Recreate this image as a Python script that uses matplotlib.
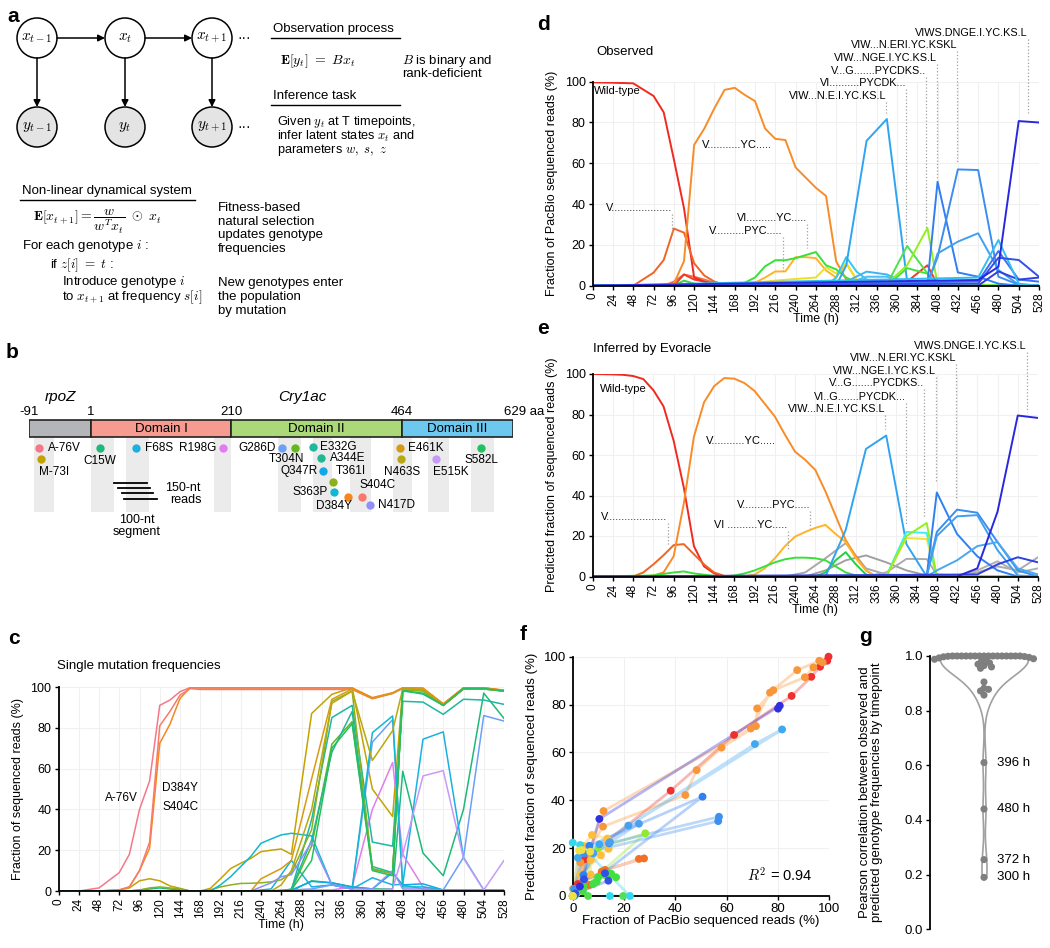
import numpy as np
import matplotlib
matplotlib.use("Agg")
import matplotlib.pyplot as plt
from matplotlib.patches import Circle, Rectangle

plt.rcParams["font.family"] = ["Liberation Sans", "DejaVu Sans"]
plt.rcParams["mathtext.fontset"] = "cm"

# ---------------- panel b: protein map ----------------
DOMAIN_BOUNDS = [-91, 1, 210, 464, 629]
DOMAIN_NAMES = ["", "Domain I", "Domain II", "Domain III"]
SEGMENTS = [(-84, -54), (1, 35), (54, 87), (184, 210), (280, 313), (331, 359),
            (386, 418), (451, 479), (503, 534), (567, 601)]
MUT_NAMES = ["A-76V", "M-73I", "C15W", "F68S", "R198G", "G286D", "T304N", "E332G",
             "A344E", "Q347R", "T361I", "S363P", "D384Y", "S404C", "N417D",
             "E461K", "N463S", "E515K", "S582L"]
MUT_POS = [-76, -73, 15, 68, 198, 286, 304, 332, 344, 347, 361, 363, 384, 404, 417,
           461, 463, 515, 582]

# ---------------- panel c: single mutation frequencies ----------------
TC = [0, 24, 48, 72, 84, 96, 108, 120, 132, 144, 156, 168, 180, 192, 204, 216, 228,
      240, 252, 264, 276, 300, 324, 348, 372, 396, 408, 432, 456, 480, 504, 528]
C_VALUES = {
    "A-76V": [0, 0, 1.5, 9, 18, 40, 54, 91, 93.6, 97.7, 99.7, 99.5, 99.5, 99.5, 99.5, 99.5, 99.5,
              99.5, 99.5, 99.5, 99.5, 99.5, 99.5, 99.5, 94.5, 97, 99.5, 99.3, 91.5, 99.5, 99.5, 98.3],
    "M-73I": [0, 0, 0, 0.5, 1.5, 5, 6, 5, 2.5, 1.3, 0, 0, 1.3, 6, 11, 13.6, 16,
              19.3, 20, 20.6, 18, 87, 96.4, 99.7, 50, 36.5, 99.5, 99.3, 91.5, 99.5, 99.5, 98.3],
    "C15W": [0, 0, 0, 0, 0, 0.5, 1, 1.5, 1, 0.5, 0, 0, 0, 0, 0, 0, 0,
             0, 0, 0, 0, 5, 4, 2, 1, 1, 58.7, 18.6, 7.5, 40, 97, 84.6],
    "F68S": [0, 0, 0, 0, 0, 0, 0, 0, 0, 0, 0, 0, 0, 0, 0, 0, 0,
             0.5, 1, 8, 15, 2, 3, 1, 6.5, 3, 3.3, 74.4, 78, 16.5, 0.5, 0.5],
    "R198G": [0, 0, 0, 0, 0, 0, 0, 0, 0, 0, 0, 0, 0, 0, 0, 0, 0,
              0, 0, 0, 0, 0.5, 0.5, 2, 40, 63, 18, 2, 0.5, 0.5, 0.5, 0.5],
    "G286D": [0, 0, 0, 0, 0, 0, 0, 0, 0, 0, 0, 0, 0, 0, 0, 0, 0,
              0, 0, 0.5, 0.5, 1, 3, 1, 73, 84, 3, 1, 0.5, 16.5, 86, 83.3],
    "T304N": [0, 0, 0, 0, 0, 0, 0, 0, 0, 0, 0, 0, 0, 0, 0, 0, 0,
              0, 0, 0, 0.5, 22, 72, 83, 11, 8.5, 98.5, 98, 91, 99, 99, 98],
    "E332G": [0, 0, 0, 0, 0, 0, 0, 0, 0, 0, 0, 0, 0, 0, 0, 0, 0,
              0, 0, 0, 0.5, 35, 85, 91, 24, 22, 93, 92.6, 86.6, 94, 93.6, 91.5],
    "A344E": [0, 0, 0, 0, 0, 0, 0, 0, 0, 0, 0, 0, 0, 0, 0, 0, 0,
              0, 0, 0, 1, 25, 68, 88, 12, 9, 98.3, 96.5, 91, 99, 99, 98],
    "Q347R": [0, 0, 0, 0, 0, 0, 0, 0, 0, 0, 0, 0, 0, 0, 0, 0, 0,
              0, 0, 0, 0.5, 4.7, 4, 2, 1, 9, 3, 3.5, 0.5, 0.5, 0.5, 0.5],
    "T361I": [0, 0, 0, 0, 0, 0.5, 1.5, 2, 1.5, 1, 0, 0, 0.5, 2, 3, 3.7, 3.8,
              4, 4.5, 5.5, 9, 30, 93, 98, 10.5, 8.5, 99, 98.5, 91, 99.3, 99.3, 98],
    "S363P": [0, 0, 0, 0, 0, 0, 0, 0, 0, 0, 0, 0, 0, 3, 7, 12, 17,
              23.4, 25.5, 27.5, 28.3, 27, 3, 1, 77.6, 85.8, 2, 2, 0.5, 0.5, 0.5, 0.5],
    "D384Y": [0, 0, 0, 0.5, 2, 10, 21, 72.4, 81.7, 94.4, 99.7, 99.6, 99.6, 99.6, 99.6, 99.6, 99.6,
              99.6, 99.6, 99.6, 99.6, 99.6, 99.6, 99.6, 94.8, 97.2, 99.6, 99.4, 91.8, 99.6, 99.6, 98.5],
    "S404C": [0, 0, 0, 0.5, 2, 10, 24, 81, 88, 96, 99.2, 98.8, 98.8, 98.8, 98.8, 98.8, 98.8,
              98.8, 98.8, 98.8, 98.8, 98.8, 98.8, 98.8, 94.2, 96.8, 99.3, 99.1, 91.2, 99.3, 99.3, 98],
    "N417D": [0, 0, 0, 0, 0, 0, 0, 0, 0, 0, 0, 0, 0, 0, 0, 0, 0,
              2, 4, 7, 8, 24, 3, 1, 1, 10, 1, 1, 0.5, 0.5, 0.5, 0.5],
    "E461K": [0, 0, 0, 0, 0, 0, 0, 0, 0, 0, 0, 0, 0, 0, 0, 0, 0,
              6, 8.5, 11, 15, 55, 94, 99, 94.5, 97, 99.5, 99.3, 91.5, 99.5, 99.5, 98.3],
    "N463S": [0, 0, 0, 0, 0, 0, 0, 0, 0, 0, 0, 0, 0, 0, 0, 0, 0,
              0, 0, 3, 10, 40, 92, 98, 64, 78.6, 99, 98.5, 91, 99.3, 99.3, 98],
    "E515K": [0, 0, 0, 0, 0, 0, 0, 0, 0, 0, 0, 0, 0, 0, 0, 0, 0,
              0, 0, 0, 0, 0, 0, 0, 0.5, 1, 18, 56.4, 59, 16, 0.5, 15],
    "S582L": [0, 0, 0, 0, 0, 0, 0, 0, 0, 0, 0, 0, 0, 0, 0, 0, 0,
              0, 0, 0, 0.5, 15, 70, 82, 10, 7.5, 98, 97, 91, 99.3, 99.3, 98],
}
C_NOTES = [("A-76V", 55, 45.5), ("D384Y", 123, 50.5), ("S404C", 123, 41.3)]

# ---------------- panel d: observed genotype frequencies ----------------
D_TIMES = [
    [0, 84, 96, 108, 120, 132, 144, 156, 528],
    [0, 96, 108, 120, 132, 144, 348, 372, 396, 408, 528],
    [0, 96, 108, 120, 132, 528],
    [0, 24, 48, 72, 84, 96, 108, 120, 132, 144, 156, 168, 180, 528],
    [0, 48, 72, 84, 96, 108, 120, 132, 144, 156, 528],
    [0, 84, 96, 108, 120, 132, 144, 156, 168, 180, 192, 204, 216, 228, 240, 252, 264, 276, 288, 300, 312, 528],
    [0, 168, 180, 192, 204, 216, 228, 240, 252, 264, 276, 288, 300, 312, 324, 528],
    [0, 168, 192, 216, 240, 264, 276, 288, 300, 312, 324, 528],
    [0, 168, 180, 192, 204, 216, 228, 240, 252, 264, 276, 288, 300, 312, 324, 528],
    [0, 276, 288, 300, 312, 324, 348, 372, 528],
    [0, 288, 300, 324, 348, 372, 528],
    [0, 288, 300, 324, 348, 372, 528],
    [0, 288, 300, 324, 348, 372, 396, 528],
    [0, 348, 372, 396, 408, 528],
    [0, 348, 372, 396, 408, 528],
    [0, 348, 372, 396, 408, 528],
    [0, 384, 396, 408, 432, 456, 480, 504, 528],
    [0, 384, 396, 408, 432, 456, 480, 504, 528],
    [0, 396, 408, 432, 456, 480, 504, 528],
    [0, 456, 480, 504, 528],
    [0, 456, 480, 504, 528],
    [0, 456, 480, 504, 528],
    [0, 456, 480, 504, 528],
    [0, 456, 480, 504, 528],
]
D_VALUES = [
    [0, 0, 2, 5.5, 4.4, 3, 1.5, 1, 0],
    [0, 0, 5.5, 3, 2, 0.5, 0, 2, 10, 0.5, 0],
    [0, 0, 2.5, 1, 0, 0],
    [99.7, 99.5, 99.2, 93, 85, 62, 38, 4, 2, 1, 0.5, 0.3, 0, 0],
    [0, 0, 6.4, 12.6, 28, 26, 11, 5, 2, 0.5, 0],
    [0, 0, 1, 12, 69, 77, 87, 96, 97, 93.5, 90.5, 77, 72, 71.4, 58, 53, 48, 44, 12, 3, 1, 0],
    [0, 0, 0.5, 1.5, 4, 7, 7, 14, 14, 13.5, 7.5, 4, 11, 3, 0, 0],
    [0, 0.5, 1.5, 2.5, 3.3, 4, 9, 6, 11, 3, 0, 0],
    [0, 0, 1.5, 4, 9.5, 12.5, 12.5, 13.5, 15, 16.5, 10, 8, 4, 1.5, 0, 0],
    [0, 0, 4, 14, 7, 3, 2, 0.5, 0],
    [0, 0, 2, 6.9, 5.5, 1, 0],
    [0, 0, 1, 4.4, 4.4, 1, 0],
    [0, 0, 10, 71, 81.7, 2, 0.5, 0],
    [0, 0, 8.6, 5.9, 0, 0],
    [0, 0.5, 19.5, 6, 0, 0],
    [0, 1, 10, 28.3, 0.5, 0],
    [0, 0, 1, 51, 6.5, 4.4, 1, 0, 0],
    [0, 0, 1, 14, 57, 56.7, 4.4, 0.5, 0],
    [0, 0, 15.8, 21.6, 25.7, 7.7, 0.5, 0],
    [0, 2, 17, 3, 2],
    [0, 0, 7, 3, 4],
    [0, 4, 22.4, 1, 0],
    [0, 1, 13.7, 12.6, 4.4],
    [0, 2.8, 9.3, 80.7, 80],
]
D_COLORS = ["#f07050", "#f03a20", "#40d040", "#f02a20", "#f06424", "#f88c28", "#ffb428",
            "#f0e020", "#38e038", "#30c8f0", "#40b4f0", "#50bcf0", "#30a4f0", "#40e040",
            "#50e050", "#90f020", "#3080f0", "#3b8ef0", "#40a0f0", "#4070f0", "#3040e0",
            "#30c0f0", "#3050e8", "#2828e0"]
D_LABELS = [("VIWS.DNGE.I.YC.KS.L", 515, 124, 84.5), ("VIW...N.ERI.YC.KSKL", 431, 118, 60),
            ("VIW...NGE.I.YC.KS.L", 407, 111.8, 51.8), ("V...G.......PYCDKS..", 394, 105.4, 28),
            ("VI..........PYCDK...", 371, 99.2, 21), ("VIW...N.E.I.YC.KS.L", 347, 93, 84.5),
            ("V....................", 94, 38, 25.6), ("VI..........YC.....", 254, 33, 18.3),
            ("V..........PYC.....", 225, 27, 7)]

# ---------------- panel e: inferred genotype frequencies ----------------
E_TIMES = [
    [0, 228, 252, 276, 300, 324, 348, 372, 396, 528],
    [0, 252, 276, 300, 324, 348, 372, 396, 408, 432, 528],
    [0, 324, 348, 372, 396, 408, 432, 456, 480, 504, 528],
    [0, 408, 432, 456, 480, 504, 528],
    [0, 24, 36, 48, 60, 72, 84, 96, 108, 120, 132, 144, 156, 528],
    [0, 48, 60, 72, 84, 96, 108, 120, 132, 144, 156, 528],
    [0, 60, 72, 84, 96, 108, 120, 132, 144, 156, 168, 180, 192, 204, 216, 228, 240, 252, 264, 276, 288, 300, 312, 324, 336, 528],
    [0, 180, 192, 204, 216, 228, 240, 252, 264, 276, 288, 300, 312, 324, 336, 528],
    [0, 72, 96, 108, 120, 144, 156, 168, 180, 192, 204, 216, 228, 240, 252, 264, 276, 288, 300, 312, 324, 336, 528],
    [0, 264, 276, 288, 300, 312, 324, 336, 528],
    [0, 264, 276, 300, 324, 348, 372, 396, 528],
    [0, 336, 348, 372, 396, 408, 528],
    [0, 336, 348, 372, 396, 408, 528],
    [0, 348, 372, 396, 408, 528],
    [0, 384, 396, 408, 432, 456, 480, 504, 528],
    [0, 396, 408, 432, 456, 480, 504, 528],
    [0, 396, 408, 432, 456, 480, 504, 528],
    [0, 396, 408, 432, 456, 480, 504, 528],
    [0, 456, 480, 504, 528],
    [0, 432, 456, 480, 504, 528],
]
E_VALUES = [
    [0, 0, 2, 9, 16.5, 4, 1, 0.5, 0, 0],
    [0, 0, 3, 8, 10.4, 7, 3, 0.5, 0, 0, 0],
    [0, 0, 2, 8.7, 8.6, 1, 0.5, 2, 5, 3, 9.5],
    [0, 0, 0.5, 3, 7.5, 2, 4],
    [100, 99.8, 99.6, 99, 97.5, 92, 84, 67, 44, 15, 5, 1.5, 0, 0],
    [0, 0, 2, 6, 10.5, 15.5, 16, 11, 6, 2, 0.3, 0],
    [0, 0, 0.5, 2, 10, 36, 69, 86, 94, 98, 97.7, 95.5, 91.6, 85.3, 79, 70, 61.6, 57.6, 52.6, 42, 30, 18, 10, 3, 0, 0],
    [0, 0, 1, 4, 9, 15, 19.7, 22, 24, 25.5, 21, 17, 9, 3, 0, 0],
    [0, 0.5, 2, 2.5, 1.5, 0.3, 0, 0.5, 1.5, 3, 5, 7, 8.5, 9.3, 9.3, 9, 8, 5, 2, 0.5, 0, 0, 0],
    [0, 0, 2, 8, 12, 6, 1, 0, 0],
    [0, 0, 0, 23, 63, 69.6, 16, 0, 0],
    [0, 0, 0, 19, 18.5, 0, 0],
    [0, 0, 0, 22, 21.5, 0, 0],
    [0, 0, 20, 26.4, 0, 0],
    [0, 0, 0, 41.5, 21, 10, 3, 0, 0],
    [0, 0, 22, 33, 31.5, 17, 3, 0],
    [0, 0, 20, 29.7, 30.3, 13, 0.5, 0],
    [0, 0, 3, 8, 15, 17, 4, 1],
    [0, 1, 6, 9.5, 7],
    [0, 0, 4, 32, 79.5, 78.3],
]
E_COLORS = ["#a8a8a8", "#a0a0a0", "#acacac", "#b0b0b0", "#f02a20", "#f06424", "#f88c28",
            "#ffb428", "#38e038", "#20d040", "#30a4f0", "#f0e040", "#40f0f0", "#90f020",
            "#3080f0", "#3b8ef0", "#40a0f0", "#48a8f0", "#3040e0", "#2828e0"]
E_LABELS = [("VIWS.DNGE.I.YC.KS.L", 515, 114, 81), ("VIW...N.ERI.YC.KSKL", 431, 107.9, 38),
            ("VIW...NGE.I.YC.KS.L", 407, 101.6, 46), ("V...G.......PYCDKS..", 393, 95.4, 29.5),
            ("VI..G.......PYCDK...", 371, 88.8, 25.4), ("VIW...N.E.I.YC.KS.L", 347, 82.7, 73),
            ("V....................", 88.7, 29.5, 15.5), ("V..........PYC.....", 258, 35.3, 24),
            ("VI ..........YC.....", 231, 25.4, 13)]

# ---------------- panel f: observed vs predicted ----------------
F_OBS = [
    [99.7, 99.2, 96.4, 93, 85.3, 62.9, 38.2, 4.5, 2, 1, 0.5],
    [0.5, 12, 69.4, 76.9, 87.5, 96.1, 97.4, 93.8, 90.5, 78.2, 71.9, 71.4, 58, 48.3, 43.9, 11.8, 3, 0.5],
    [0, 1, 6.4, 12.6, 27.8, 25.8, 11.3, 4.4, 2],
    [0.5, 1.5, 4, 7, 7, 14, 14, 13.5, 7.5, 4, 11, 3, 0],
    [1.5, 2.2, 4.2, 9.4, 12.6, 13.9, 15, 16.9, 10, 8, 4],
    [1, 10, 28.3, 0.5],
    [0.5, 19.7, 6, 0],
    [0, 10.4, 71, 81.6, 2, 0.5],
    [1, 50.6, 6.5, 4.2, 1],
    [14.2, 57, 56.7, 4.4, 0.5],
    [14.5, 21.7, 25.8, 8, 0.5],
    [2.8, 10.4, 80.7, 80],
    [1, 13.9, 12.6, 4.4],
    [0, 0, 2.9, 22.3, 14.5],
    [0, 2.5, 3.5, 6.8, 0],
]
F_PRED = [
    [100, 98.3, 95.8, 91.6, 83.6, 67.3, 44, 15.3, 5, 1.5, 0],
    [0.5, 35.5, 70, 85, 94.4, 98.3, 97.6, 95.5, 91.4, 86, 78.4, 71, 62, 52.6, 42.2, 29, 14, 3],
    [0, 1, 4.6, 10.9, 15.7, 15.5, 10.2, 6, 2],
    [0, 1, 4, 9, 15, 19.7, 22, 24, 25.5, 21, 17, 9, 3],
    [1.5, 2.5, 4.2, 6, 8.8, 9.5, 9.3, 7.8, 8, 5, 2],
    [0.5, 20, 26.2, 0],
    [0, 0, 0, 0],
    [0, 21.6, 63.5, 69.6, 16, 0.5],
    [0.5, 41.5, 21, 8.8, 3],
    [22, 33.1, 31.3, 17.8, 3],
    [22.5, 29.4, 30.2, 17.8, 0.5],
    [4, 32.2, 79.5, 78.3],
    [1, 6.4, 9.5, 7],
    [0, 22.3, 21.3, 0, 0],
    [0, 19, 19.2, 18.5, 0],
]
F_COLORS = ["#f03030", "#f8963a", "#f07028", "#ffbe3a", "#40e040", "#90e830", "#50e050",
            "#40a8f0", "#3080f0", "#3d90f0", "#4aa0f0", "#3030e0", "#3050e8", "#30d8f0", "#f0e040"]

# ---------------- panel g: per-timepoint correlation ----------------
G_VALUES = [1.0, 1.0, 1.0, 1.0, 1.0, 1.0, 1.0, 1.0, 1.0, 1.0, 1.0, 1.0, 1.0, 1.0, 1.0, 1.0,
            0.999, 0.998, 0.997, 0.995, 0.993, 0.99, 0.988, 0.985, 0.98, 0.975, 0.97,
            0.965, 0.96, 0.955, 0.905, 0.882, 0.878, 0.872, 0.857, 0.61, 0.44, 0.255, 0.19]
G_NOTES = [(0.61, "396 h"), (0.44, "480 h"), (0.255, "372 h"), (0.19, "300 h")]

# =====================================================================
W, H = 1050, 948
fig = plt.figure(figsize=(W / 100, H / 100), dpi=100)


def px_axes(x0, y0, x1, y1):
    return fig.add_axes([x0 / W, 1 - y1 / H, (x1 - x0) / W, (y1 - y0) / H])


def panel_letter(x, y, s):
    fig.text(x / W, 1 - y / H, s, fontsize=15, fontweight="bold", ha="center", va="center")


def style_time(ax, ylab, ylab_x):
    ax.set_xlim(0, 528)
    ax.set_ylim(0, 100)
    ax.set_xticks(range(0, 529, 24))
    ax.set_xticklabels([str(t) for t in range(0, 529, 24)], rotation=90, fontsize=8.5)
    ax.set_yticks(range(0, 101, 20))
    ax.tick_params(axis="y", labelsize=9)
    ax.tick_params(length=3, width=1, pad=2)
    ax.grid(True, color="#f0f0f0", lw=0.8)
    ax.set_axisbelow(True)
    for s in ["top", "right"]:
        ax.spines[s].set_visible(False)
    for s in ["left", "bottom"]:
        ax.spines[s].set_linewidth(1.3)
    ax.set_xlabel("Time (h)", fontsize=9)
    ax.xaxis.set_label_coords(0.5, -0.135)
    ax.set_ylabel(ylab, fontsize=9)
    ax.yaxis.set_label_coords(ylab_x, 0.5)


# ---------------- a ----------------
panel_letter(13, 16, "a")
axa = px_axes(0, 0, 540, 330)
axa.set_xlim(0, 540)
axa.set_ylim(330, 0)
axa.axis("off")
node_x = [37, 125, 212]
top_y, bot_y, r = 38, 127, 20
x_names = [r"$x_{t-1}$", r"$x_t$", r"$x_{t+1}$"]
y_names = [r"$y_{t-1}$", r"$y_t$", r"$y_{t+1}$"]
arrow = dict(arrowstyle="-|>", color="black", lw=1.1, shrinkA=0, shrinkB=0, mutation_scale=10)
for i, nx in enumerate(node_x):
    axa.add_patch(Circle((nx, top_y), r, fc="white", ec="black", lw=1.1))
    axa.add_patch(Circle((nx, bot_y), r, fc="#e4e4e4", ec="black", lw=1.1))
    axa.text(nx, top_y, x_names[i], ha="center", va="center", fontsize=11)
    axa.text(nx, bot_y, y_names[i], ha="center", va="center", fontsize=11)
    axa.annotate("", xy=(nx, bot_y - r), xytext=(nx, top_y + r), arrowprops=arrow)
    if i < 2:
        axa.annotate("", xy=(node_x[i + 1] - r, top_y), xytext=(nx + r, top_y), arrowprops=arrow)
axa.text(237, top_y, "···", ha="left", va="center", fontsize=10)
axa.text(237, bot_y, "···", ha="left", va="center", fontsize=10)

fs = 9.5
axa.text(273, 29, "Observation process", fontsize=fs, va="center")
axa.plot([271, 400], [38, 38], color="black", lw=1)
axa.text(280, 61, r"$\mathbf{E}[y_t]\ =\ Bx_t$", fontsize=fs + 0.5, va="center")
axa.text(402, 61, r"$B$ is binary and", fontsize=fs, va="center")
axa.text(402, 74, "rank-deficient", fontsize=fs, va="center")
axa.text(273, 96, "Inference task", fontsize=fs, va="center")
axa.plot([271, 400], [105, 105], color="black", lw=1)
axa.text(277, 122, r"Given $y_t$ at T timepoints,", fontsize=9.2, va="center")
axa.text(277, 136, r"infer latent states $x_t$ and", fontsize=9.2, va="center")
axa.text(277, 150, r"parameters $w,\ s,\ z$", fontsize=9.2, va="center")

axa.text(22, 191, "Non-linear dynamical system", fontsize=fs, va="center")
axa.plot([20, 195], [200, 200], color="black", lw=1)
axa.text(33, 222, r"$\mathbf{E}[x_{t+1}] = \dfrac{w}{w^T x_t}\ \odot\ x_t$", fontsize=fs + 0.5, va="center")
axa.text(22, 246, r"For each genotype $i$ :", fontsize=fs, va="center")
axa.text(50, 265, r"if $z[i]\ =\ t$ :", fontsize=fs, va="center")
axa.text(62, 282, r"Introduce genotype $i$", fontsize=fs, va="center")
axa.text(62, 297, r"to $x_{t+1}$ at frequency $s[i]$", fontsize=fs, va="center")
for j, line in enumerate(["Fitness-based", "natural selection", "updates genotype", "frequencies"]):
    axa.text(218, 208 + 13.7 * j, line, fontsize=fs, va="center")
for j, line in enumerate(["New genotypes enter", "the population", "by mutation"]):
    axa.text(218, 283 + 14 * j, line, fontsize=fs, va="center")

# ---------------- b ----------------
panel_letter(12, 353, "b")
MUT_COLORS = ["#f4788a", "#c4a200", "#1db97a", "#1ab0e0", "#e07ef0", "#6aa0f8", "#62b81e",
              "#1cb8a0", "#22b894", "#10a8e8", "#8cb020", "#10b8d0", "#f8861c", "#f87a6a",
              "#9090f8", "#d89a10", "#b8a810", "#c89af8", "#22c060"]
# layout: dot row y (px), label offset dx (px), dy (px), alignment
MUT_DOT_Y = [447.7, 459.3, 447.7, 447.7, 447.7, 447.7, 447.7, 447.2, 458, 471, 481.5,
             492, 496.5, 496.5, 505, 447.7, 459.3, 459.3, 447.7]
MUT_LAB = [(9, 0, "left"), (-2, 12.4, "left"), (0, 13.5, "center"), (9, 0, "left"),
           (-7, 0, "right"), (-6.5, 0, "right"), (-8, 11.3, "center"), (7, 0, "left"),
           (9, 0, "left"), (-6, 0, "right"), (3, -11, "left"), (-6, 0, "right"),
           (-14.5, 9.5, "center"), (-2.5, -11.5, "left"), (8, 0, "left"), (8, 0, "left"),
           (0.5, 12.4, "center"), (14, 12.4, "center"), (0.5, 12, "center")]
axb = px_axes(29, 380, 513, 545)
axb.set_xlim(-91, 629)
axb.set_ylim(545, 380)
axb.axis("off")
aa_per_px = 720 / 484


def bx(px):
    return -91 + (px - 29) * aa_per_px


for a0, a1 in SEGMENTS:
    axb.add_patch(Rectangle((a0, 437), a1 - a0, 75, fc="#ebebeb", ec="none", zorder=0))
dom_cols = ["#b3b5b8", "#f59b90", "#abd878", "#6cc8ef"]
for k in range(4):
    b0, b1 = DOMAIN_BOUNDS[k], DOMAIN_BOUNDS[k + 1]
    axb.add_patch(Rectangle((b0, 420), b1 - b0, 17, fc=dom_cols[k], ec="#222222", lw=1.2, zorder=2))
    if DOMAIN_NAMES[k]:
        axb.text((b0 + b1) / 2, 429, DOMAIN_NAMES[k], ha="center", va="center", fontsize=9.5, zorder=3)
for b in DOMAIN_BOUNDS[:-1]:
    axb.text(b, 412, str(b), ha="center", va="center", fontsize=9.5)
axb.text(bx(504), 412, "629 aa", ha="left", va="center", fontsize=9.5)
axb.text(bx(61), 397, "rpoZ", ha="center", va="center", fontsize=11, style="italic")
axb.text(bx(302), 397, "Cry1ac", ha="center", va="center", fontsize=11, style="italic")
for name, pos, col, dy_dot, (dx, dy, ha) in zip(MUT_NAMES, MUT_POS, MUT_COLORS, MUT_DOT_Y, MUT_LAB):
    axb.plot(pos, dy_dot, "o", ms=6, color=col, mec="none", zorder=4)
    axb.text(pos + dx * aa_per_px, dy_dot + dy, name, ha=ha, va="center", fontsize=8.5, zorder=5)
for (x0, x1, yy) in [(114, 147, 483), (118, 150, 488), (122, 153, 493), (124.5, 157, 499)]:
    axb.plot([bx(x0), bx(x1)], [yy, yy], color="black", lw=1.3)
axb.text(bx(165), 488, "150-nt", fontsize=9, va="center")
axb.text(bx(170), 500, "reads", fontsize=9, va="center")
axb.text(bx(137), 520, "100-nt", fontsize=9, va="center", ha="center")
axb.text(bx(137), 532, "segment", fontsize=9, va="center", ha="center")

# ---------------- c ----------------
panel_letter(14, 638, "c")
axc = px_axes(58.5, 687, 504, 891)
for name, col in zip(MUT_NAMES, MUT_COLORS):
    axc.plot(TC, C_VALUES[name], color=col, lw=1.1)
style_time(axc, "Fraction of sequenced reads (%)", -0.077)
for s, hx, v in C_NOTES:
    axc.text(hx, v, s, fontsize=8.5, va="center")
fig.text(57 / W, 1 - 666 / H, "Single mutation frequencies", fontsize=9.5, va="center")

# ---------------- d ----------------
panel_letter(543, 24, "d")
axd = px_axes(592.7, 81.7, 1039, 285.7)
for t, v, col in zip(D_TIMES, D_VALUES, D_COLORS):
    axd.plot(t, v, color=col, lw=1.4)
style_time(axd, "Fraction of PacBio sequenced reads (%)", -0.078)
fig.text(596 / W, 1 - 52 / H, "Observed", fontsize=9.5, va="center")
axd.text(2, 95.5, "Wild-type", fontsize=8, va="center")
axd.text(129, 69, "V...........YC.....", fontsize=8, va="center")
for s, hx, ty, ey in D_LABELS:
    axd.text(hx, ty, s, fontsize=7.8, ha="right", va="center", clip_on=False)
    axd.plot([hx, hx], [ty - 3, ey], color="#a0a0a0", ls=":", lw=0.9, clip_on=False)

# ---------------- e ----------------
panel_letter(543, 329, "e")
axe = px_axes(592.7, 374, 1038, 576.5)
for t, v, col in zip(E_TIMES, E_VALUES, E_COLORS):
    axe.plot(t, v, color=col, lw=1.4)
style_time(axe, "Predicted fraction of sequenced reads (%)", -0.078)
fig.text(593 / W, 1 - 349 / H, "Inferred by Evoracle", fontsize=9.5, va="center")
axe.text(8.6, 92.5, "Wild-type", fontsize=8, va="center")
axe.text(134, 67, "V...........YC.....", fontsize=8, va="center")
for s, hx, ty, ey in E_LABELS:
    axe.text(hx, ty, s, fontsize=7.8, ha="right", va="center", clip_on=False)
    axe.plot([hx, hx], [ty - 3, ey], color="#a0a0a0", ls=":", lw=0.9, clip_on=False)

# ---------------- f ----------------
panel_letter(523, 634, "f")
axf = px_axes(572.7, 656.7, 829.3, 896)
for xs, ys, col in zip(F_OBS, F_PRED, F_COLORS):
    axf.plot(xs, ys, color=col, lw=2, alpha=0.35, zorder=2, solid_capstyle="round")
    axf.scatter(xs, ys, s=32, color=col, zorder=3, clip_on=False, edgecolors="none")
axf.set_xlim(0, 100)
axf.set_ylim(0, 100)
axf.set_xticks(range(0, 101, 20))
axf.set_yticks(range(0, 101, 20))
axf.tick_params(labelsize=9.5, length=3, width=1, pad=2)
axf.grid(True, color="#f0f0f0", lw=0.8)
axf.set_axisbelow(True)
for s in ["top", "right"]:
    axf.spines[s].set_visible(False)
for s in ["left", "bottom"]:
    axf.spines[s].set_linewidth(1.3)
axf.set_xlabel("Fraction of PacBio sequenced reads (%)", fontsize=9.5)
axf.xaxis.set_label_coords(0.5, -0.08)
axf.set_ylabel("Predicted fraction of sequenced reads (%)", fontsize=9.5)
axf.yaxis.set_label_coords(-0.135, 0.5)
axf.text(68, 8.8, r"$R^2$ = 0.94", fontsize=10.5, va="center")

# ---------------- g ----------------
panel_letter(866, 637, "g")
axg = px_axes(930, 656, 1045, 929.3)
axg.set_ylim(0, 1.0)
axg.set_xlim(-1, 1.13)
vp = axg.violinplot([G_VALUES], positions=[0], widths=1.63, showextrema=False, bw_method=0.3)
for body in vp["bodies"]:
    body.set_facecolor("white")
    body.set_edgecolor("#a0a0a0")
    body.set_alpha(1)
    body.set_linewidth(1.2)
# simple beeswarm layout in pixel space
ppx, ppy, dmin = 115 / 2.13, 273.3, 4.4
placed = []
for v in sorted(G_VALUES, reverse=True):
    for k in range(400):
        off = (k + 1) // 2 * 0.5 * (1 if k % 2 else -1)
        if all((off - px) ** 2 + ((v - pv) * ppy) ** 2 >= dmin ** 2 for px, pv in placed):
            placed.append((off, v))
            break
axg.scatter([p[0] / ppx for p in placed], [p[1] for p in placed], s=26, color="#7f7f7f",
            zorder=3, clip_on=False, edgecolors="none")
for v, s in G_NOTES:
    axg.text(0.24, v, s, fontsize=9.5, va="center")
axg.set_yticks([0, 0.2, 0.4, 0.6, 0.8, 1.0])
axg.set_yticklabels(["0.0", "0.2", "0.4", "0.6", "0.8", "1.0"])
axg.set_xticks([])
axg.tick_params(labelsize=9.5, length=3, width=1, pad=2)
for s in ["top", "right", "bottom"]:
    axg.spines[s].set_visible(False)
axg.spines["left"].set_linewidth(1.3)
axg.set_ylabel("Pearson correlation between observed and\npredicted genotype frequencies by timepoint",
               fontsize=9.5, linespacing=1.0)
axg.yaxis.set_label_coords(-0.41, 0.5)

fig.savefig("out.png", dpi=100)
